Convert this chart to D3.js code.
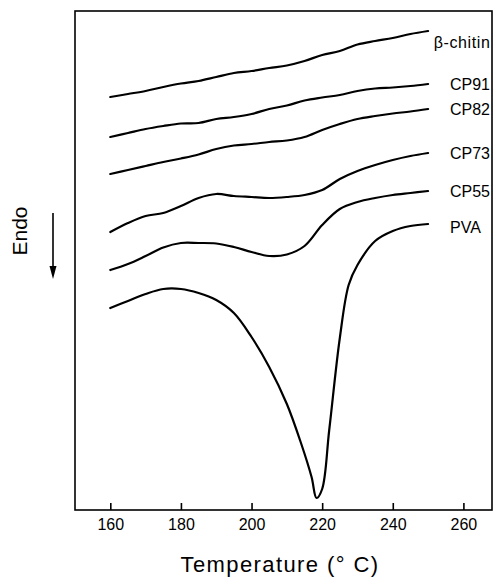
<!DOCTYPE html>
<html><head><meta charset="utf-8">
<script src="https://cdn.jsdelivr.net/npm/d3@7"></script>
<style>body{margin:0;background:#fff}svg{display:block}text{font-family:"Liberation Sans",Arial,sans-serif;fill:#000}</style>
</head><body>
<svg id="c" width="496" height="579"></svg>
<script>
const temps = [160,165,170,175,180,185,190,195,200,205,210,215,220,225,230,235,240,245,250];
const chitin = [82.6,83.2,83.8,84.6,85.3,85.8,86.6,87.4,87.8,88.4,88.9,89.8,91.0,91.8,93.1,93.8,94.4,95.2,95.8];
const cp91 = [74.6,75.4,76.2,76.8,77.3,77.4,78.2,78.6,79.2,80.2,80.9,81.9,82.5,83.0,83.8,84.3,84.5,84.8,85.2];
const cp82 = [67.2,68.0,68.8,69.6,70.3,71.1,72.2,72.9,73.2,73.6,73.9,74.6,76.0,77.2,78.2,78.8,79.3,79.7,80.2];
const cp73 = [55.6,57.4,58.8,59.4,60.8,62.4,63.2,62.8,62.6,62.4,62.6,63.0,64.0,66.2,67.8,69.0,70.0,70.8,71.4];
const cp55 = [48.0,49.2,50.8,52.5,53.4,53.4,53.3,52.6,51.6,50.8,51.1,52.8,57.0,60.2,61.6,62.4,63.0,63.4,63.8];
const pvaTemps = [160,165,170,175,180,185,190,195,200,205,210,214,217,218.4,220,222,225,227.5,230,235,240,245,250];
const pva = [40.4,41.8,43.2,44.2,44.2,43.4,42.0,39.4,34.6,28.6,21.2,13.4,6.6,2.4,4.2,16.0,34.4,45.0,49.0,53.8,55.8,56.8,57.2];
const seriesNames = ["β-chitin","CP91","CP82","CP73","CP55","PVA"];
const xTicks = [160,180,200,220,240,260];

const series = [
  {name:seriesNames[0], t:temps, v:chitin},
  {name:seriesNames[1], t:temps, v:cp91},
  {name:seriesNames[2], t:temps, v:cp82},
  {name:seriesNames[3], t:temps, v:cp73},
  {name:seriesNames[4], t:temps, v:cp55},
  {name:seriesNames[5], t:pvaTemps, v:pva}
];

const L=75, R=492, T=10, B=510;
const svg = d3.select("#c");
const x = d3.scaleLinear().domain([150,268.1]).range([L,R]);
const y = d3.scaleLinear().domain([0,100]).range([B,T]);

// frame
svg.append("rect").attr("x",L).attr("y",T+1).attr("width",R-L).attr("height",B-T-1)
  .attr("fill","none").attr("stroke","#000").attr("stroke-width",1.6);

// bottom axis with inward ticks
const ax = svg.append("g").attr("transform",`translate(0,${B})`)
  .call(d3.axisBottom(x).tickValues(xTicks).tickSize(-7).tickPadding(0).tickFormat(d3.format("d")));
ax.select(".domain").remove();
ax.selectAll(".tick line").attr("stroke","#000").attr("stroke-width",1.6);
ax.selectAll(".tick text").attr("y",20).attr("dy",0).attr("font-size",16).attr("fill","#000")
  .style("font-family","'Liberation Sans',Arial,sans-serif");

const line = d3.line().x(d=>x(d[0])).y(d=>y(d[1])).curve(d3.curveCatmullRom.alpha(0.5));
svg.append("g").selectAll("path").data(series).join("path")
  .attr("d",s=>line(s.t.map((t,i)=>[t,s.v[i]])))
  .attr("fill","none").attr("stroke","#000").attr("stroke-width",2.2)
  .attr("stroke-linejoin","round").attr("stroke-linecap","round");

// labels
svg.append("g").selectAll("text").data(series).join("text")
  .attr("x",(s,i)=> i===0 ? x(251.6) : x(256.2))
  .attr("y",(s,i)=> y(s.v[s.v.length-1]) + (i===0 ? 11 : (i===5 ? 3 : 0)))
  .attr("dy","0.36em").attr("font-size",16)
  .attr("letter-spacing",(s,i)=> i===0 ? 0.6 : 0).text(s=>s.name);

// axis title
svg.append("text").attr("x",280).attr("y",572).attr("text-anchor","middle")
  .attr("font-size",22).attr("letter-spacing",1.4).text("Temperature (° C)");

// Endo label + arrow
svg.append("text").attr("transform","translate(27,231) rotate(-90)").attr("text-anchor","middle")
  .attr("font-size",21).text("Endo");
svg.append("line").attr("x1",53).attr("x2",53).attr("y1",213).attr("y2",268)
  .attr("stroke","#000").attr("stroke-width",1.6);
svg.append("path").attr("d","M49.5,266 L56.5,266 L53,279 Z").attr("fill","#000");
</script>
</body></html>
